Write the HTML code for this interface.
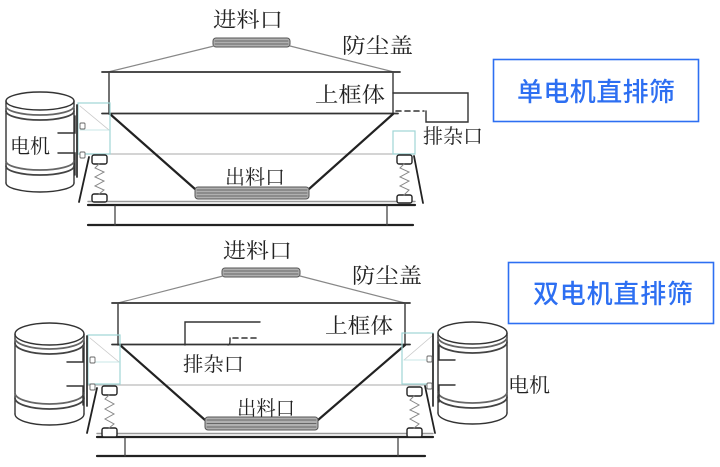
<!DOCTYPE html>
<html><head><meta charset="utf-8"><style>
html,body{margin:0;padding:0;background:#fff;}
svg{display:block;}
.lb{font-family:"Liberation Serif","Noto Serif CJK SC",serif;fill:#222;}
.bl{font-family:"Liberation Sans","Noto Sans CJK SC",sans-serif;fill:#2d6ff2;font-weight:500;}
</style></head><body>
<svg width="720" height="467" viewBox="0 0 720 467" xmlns="http://www.w3.org/2000/svg">
<rect width="720" height="467" fill="#fff"/>

<!-- ================= TOP PANEL ================= -->
<g fill="none" stroke-linecap="round">
  <rect x="213" y="38" width="77" height="9" rx="3" fill="#b0b0b0" stroke="#555" stroke-width="1"/>
  <line x1="215" y1="41" x2="288" y2="41" stroke="#666" stroke-width="1"/>
  <line x1="215" y1="44" x2="288" y2="44" stroke="#666" stroke-width="1"/>
  <line x1="214" y1="46" x2="108" y2="72" stroke="#888" stroke-width="1.2"/>
  <line x1="290" y1="46" x2="394" y2="72" stroke="#888" stroke-width="1.2"/>
  <line x1="102" y1="72" x2="400" y2="72" stroke="#333" stroke-width="1.8"/>
  <line x1="109" y1="72" x2="109" y2="114" stroke="#444" stroke-width="1.5"/>
  <line x1="393" y1="72" x2="393" y2="113" stroke="#444" stroke-width="1.5"/>
  <line x1="102" y1="113.5" x2="398" y2="113.5" stroke="#333" stroke-width="1.8"/>
  <line x1="78" y1="154" x2="415" y2="154" stroke="#bbb" stroke-width="1.2"/>
  <line x1="110" y1="114" x2="195" y2="189" stroke="#222" stroke-width="2.2"/>
  <line x1="393" y1="114" x2="309" y2="189" stroke="#222" stroke-width="2.2"/>
  <rect x="195" y="187" width="114" height="12" rx="3" fill="#b0b0b0" stroke="#555" stroke-width="1"/>
  <line x1="197" y1="190" x2="307" y2="190" stroke="#666"/>
  <line x1="197" y1="193" x2="307" y2="193" stroke="#666"/>
  <line x1="197" y1="196" x2="307" y2="196" stroke="#666"/>
  <line x1="88" y1="201.5" x2="415" y2="201.5" stroke="#999" stroke-width="1.4"/>
  <line x1="88" y1="205" x2="415" y2="205" stroke="#222" stroke-width="2.2"/>
  <line x1="88" y1="225" x2="413" y2="225" stroke="#222" stroke-width="2.2"/>
  <line x1="115" y1="206" x2="115" y2="225" stroke="#444" stroke-width="1.3"/>
  <line x1="387" y1="206" x2="387" y2="225" stroke="#444" stroke-width="1.3"/>

  <!-- left motor -->
  <ellipse cx="40" cy="101" rx="34" ry="9" stroke="#333" stroke-width="1.4" fill="#fff"/>
  <line x1="6" y1="101" x2="6" y2="183" stroke="#333" stroke-width="1.4"/>
  <line x1="74" y1="101" x2="74" y2="183" stroke="#333" stroke-width="1.4"/>
  <path d="M6 183 A34 9 0 0 0 74 183" stroke="#333" stroke-width="1.4"/>
  <path d="M6 106 A34 9 0 0 0 74 106" stroke="#666" stroke-width="1.8"/>
  <path d="M6 111 A34 9 0 0 0 74 111" stroke="#444" stroke-width="1.8"/>
  <path d="M6 161 A34 9 0 0 0 74 161" stroke="#666" stroke-width="1.8"/>
  <path d="M6 166 A34 9 0 0 0 74 166" stroke="#444" stroke-width="1.8"/>
  <path d="M75 116 L75 133 L58 133" stroke="#333" stroke-width="1.4"/>
  <path d="M58 153 L75 153 L75 175" stroke="#333" stroke-width="1.4"/>
  <rect x="78" y="103" width="32" height="51" stroke="#9fd6d6" stroke-width="1.2"/>
  <line x1="80" y1="106" x2="109" y2="130" stroke="#c8c8c8" stroke-width="0.8"/>
  <line x1="80" y1="130" x2="109" y2="130" stroke="#b9e0e0" stroke-width="0.8"/>
  <line x1="77" y1="105" x2="77" y2="177" stroke="#333" stroke-width="1.8"/>
  <rect x="80" y="123" width="5" height="6" rx="1" stroke="#666" stroke-width="0.9" fill="#fff"/>
  <rect x="80" y="152" width="5" height="6" rx="1" stroke="#666" stroke-width="0.9" fill="#fff"/>
  <rect x="92" y="155" width="15" height="9" rx="2" stroke="#222" stroke-width="1.4" fill="#fff"/>
  <rect x="92" y="194" width="15" height="8" rx="2" stroke="#222" stroke-width="1.4" fill="#fff"/>
  <polyline points="99,164 95,168 104,172 95,177 104,181 95,186 104,190 99,194" stroke="#888" stroke-width="1"/>
  <line x1="89" y1="157" x2="79" y2="202" stroke="#222" stroke-width="1.8"/>

  <!-- right side -->
  <rect x="393" y="131" width="22" height="23" stroke="#9fd6d6" stroke-width="1.2"/>
  <rect x="397" y="155" width="15" height="9" rx="2" stroke="#222" stroke-width="1.4" fill="#fff"/>
  <rect x="397" y="195" width="15" height="8" rx="2" stroke="#222" stroke-width="1.4" fill="#fff"/>
  <polyline points="404,164 400,168 409,172 400,177 409,181 400,186 409,190 404,195" stroke="#888" stroke-width="1"/>
  <line x1="414" y1="156" x2="423" y2="203" stroke="#222" stroke-width="1.8"/>
  <path d="M393 93 L468 93 L468 122 L426 122 L426 111" stroke="#333" stroke-width="1.4"/>
  <line x1="396" y1="111" x2="424" y2="111" stroke="#333" stroke-width="1.6" stroke-dasharray="5,4"/>
</g>

<text class="lb" x="213" y="27" font-size="21" textLength="70" lengthAdjust="spacingAndGlyphs">进料口</text>
<text class="lb" x="342" y="53" font-size="21" textLength="71" lengthAdjust="spacingAndGlyphs">防尘盖</text>
<text class="lb" x="315" y="102" font-size="21" textLength="70" lengthAdjust="spacingAndGlyphs">上框体</text>
<text class="lb" x="423" y="143" font-size="20" textLength="60" lengthAdjust="spacingAndGlyphs">排杂口</text>
<text class="lb" x="225" y="184" font-size="20" textLength="60" lengthAdjust="spacingAndGlyphs">出料口</text>
<text class="lb" x="10" y="153" font-size="20" textLength="40" lengthAdjust="spacingAndGlyphs">电机</text>

<rect x="493.5" y="59.5" width="205" height="62" fill="none" stroke="#2d6ff2" stroke-width="1.6"/>
<text class="bl" x="517" y="101" font-size="26" textLength="158" lengthAdjust="spacing">单电机直排筛</text>

<!-- ================= BOTTOM PANEL ================= -->
<g fill="none" stroke-linecap="round">
  <rect x="222" y="268" width="78" height="9" rx="3" fill="#b0b0b0" stroke="#555" stroke-width="1"/>
  <line x1="224" y1="271" x2="298" y2="271" stroke="#666"/>
  <line x1="224" y1="274" x2="298" y2="274" stroke="#666"/>
  <line x1="223" y1="276" x2="118" y2="303" stroke="#888" stroke-width="1.2"/>
  <line x1="300" y1="276" x2="405" y2="303" stroke="#888" stroke-width="1.2"/>
  <line x1="112" y1="303" x2="410" y2="303" stroke="#333" stroke-width="1.8"/>
  <line x1="118" y1="303" x2="118" y2="345" stroke="#444" stroke-width="1.5"/>
  <line x1="405" y1="303" x2="405" y2="345" stroke="#444" stroke-width="1.5"/>
  <line x1="112" y1="344.5" x2="410" y2="344.5" stroke="#333" stroke-width="1.8"/>
  <line x1="88" y1="385" x2="430" y2="385" stroke="#bbb" stroke-width="1.2"/>
  <line x1="120" y1="345" x2="205" y2="420" stroke="#222" stroke-width="2.2"/>
  <line x1="405" y1="345" x2="318" y2="420" stroke="#222" stroke-width="2.2"/>
  <rect x="205" y="417" width="113" height="13" rx="3" fill="#b0b0b0" stroke="#555" stroke-width="1"/>
  <line x1="207" y1="420" x2="316" y2="420" stroke="#666"/>
  <line x1="207" y1="423.5" x2="316" y2="423.5" stroke="#666"/>
  <line x1="207" y1="427" x2="316" y2="427" stroke="#666"/>
  <line x1="97" y1="433.5" x2="433" y2="433.5" stroke="#999" stroke-width="1.4"/>
  <line x1="97" y1="437" x2="433" y2="437" stroke="#222" stroke-width="2.2"/>
  <line x1="97" y1="456" x2="425" y2="456" stroke="#222" stroke-width="2.2"/>
  <line x1="125" y1="438" x2="125" y2="456" stroke="#444" stroke-width="1.3"/>
  <line x1="398" y1="438" x2="398" y2="456" stroke="#444" stroke-width="1.3"/>

  <path d="M260 322 L185 322 L185 345" stroke="#333" stroke-width="1.4"/>
  <path d="M228 345 Q230 345 230 341 L230 338" stroke="#333" stroke-width="1.4"/>
  <line x1="233" y1="338" x2="259" y2="338" stroke="#333" stroke-width="1.6" stroke-dasharray="5,4"/>

  <!-- left motor -->
  <ellipse cx="49.5" cy="334" rx="34.5" ry="11" stroke="#333" stroke-width="1.4" fill="#fff"/>
  <line x1="15" y1="334" x2="15" y2="414" stroke="#333" stroke-width="1.4"/>
  <line x1="84" y1="334" x2="84" y2="414" stroke="#333" stroke-width="1.4"/>
  <path d="M15 414 A34.5 11 0 0 0 84 414" stroke="#333" stroke-width="1.4"/>
  <path d="M15 338 A34.5 11 0 0 0 84 338" stroke="#666" stroke-width="1.8"/>
  <path d="M15 343 A34.5 11 0 0 0 84 343" stroke="#444" stroke-width="1.8"/>
  <path d="M15 393 A34.5 11 0 0 0 84 393" stroke="#666" stroke-width="1.8"/>
  <path d="M15 398 A34.5 11 0 0 0 84 398" stroke="#444" stroke-width="1.8"/>
  <path d="M83 348 L83 362 L67 362" stroke="#333" stroke-width="1.4"/>
  <path d="M67 386 L83 386 L83 405" stroke="#333" stroke-width="1.4"/>
  <rect x="88" y="335" width="32" height="49" stroke="#9fd6d6" stroke-width="1.2"/>
  <line x1="90" y1="338" x2="119" y2="362" stroke="#c8c8c8" stroke-width="0.8"/>
  <line x1="90" y1="362" x2="119" y2="362" stroke="#b9e0e0" stroke-width="0.8"/>
  <line x1="87" y1="336" x2="87" y2="406" stroke="#333" stroke-width="1.8"/>
  <rect x="90" y="357" width="5" height="6" rx="1" stroke="#666" stroke-width="0.9" fill="#fff"/>
  <rect x="90" y="384" width="5" height="6" rx="1" stroke="#666" stroke-width="0.9" fill="#fff"/>
  <rect x="102" y="386" width="15" height="9" rx="2" stroke="#222" stroke-width="1.4" fill="#fff"/>
  <rect x="102" y="428" width="15" height="9" rx="2" stroke="#222" stroke-width="1.4" fill="#fff"/>
  <polyline points="109,395 105,399 114,404 105,409 114,414 105,419 114,424 109,428" stroke="#888" stroke-width="1"/>
  <line x1="97" y1="388" x2="87" y2="433" stroke="#222" stroke-width="1.8"/>

  <!-- right motor -->
  <ellipse cx="472.5" cy="333" rx="34.5" ry="11" stroke="#333" stroke-width="1.4" fill="#fff"/>
  <line x1="438" y1="333" x2="438" y2="413" stroke="#333" stroke-width="1.4"/>
  <line x1="507" y1="333" x2="507" y2="413" stroke="#333" stroke-width="1.4"/>
  <path d="M438 413 A34.5 11 0 0 0 507 413" stroke="#333" stroke-width="1.4"/>
  <path d="M438 337 A34.5 11 0 0 0 507 337" stroke="#666" stroke-width="1.8"/>
  <path d="M438 342 A34.5 11 0 0 0 507 342" stroke="#444" stroke-width="1.8"/>
  <path d="M438 392 A34.5 11 0 0 0 507 392" stroke="#666" stroke-width="1.8"/>
  <path d="M438 397 A34.5 11 0 0 0 507 397" stroke="#444" stroke-width="1.8"/>
  <path d="M439 346 L439 360 L455 360" stroke="#333" stroke-width="1.4"/>
  <path d="M455 385 L439 385 L439 402" stroke="#333" stroke-width="1.4"/>
  <rect x="402" y="333" width="31" height="51" stroke="#9fd6d6" stroke-width="1.2"/>
  <line x1="432" y1="336" x2="404" y2="360" stroke="#c8c8c8" stroke-width="0.8"/>
  <line x1="404" y1="360" x2="432" y2="360" stroke="#b9e0e0" stroke-width="0.8"/>
  <line x1="433" y1="334" x2="433" y2="406" stroke="#333" stroke-width="1.8"/>
  <rect x="427" y="356" width="5" height="6" rx="1" stroke="#666" stroke-width="0.9" fill="#fff"/>
  <rect x="427" y="383" width="5" height="6" rx="1" stroke="#666" stroke-width="0.9" fill="#fff"/>
  <rect x="407" y="387" width="15" height="9" rx="2" stroke="#222" stroke-width="1.4" fill="#fff"/>
  <rect x="407" y="428" width="15" height="9" rx="2" stroke="#222" stroke-width="1.4" fill="#fff"/>
  <polyline points="414,396 410,400 419,405 410,410 419,414 410,419 419,424 414,428" stroke="#888" stroke-width="1"/>
  <line x1="425" y1="386" x2="435" y2="433" stroke="#222" stroke-width="1.8"/>
</g>

<text class="lb" x="223" y="258" font-size="21" textLength="69" lengthAdjust="spacingAndGlyphs">进料口</text>
<text class="lb" x="352" y="283" font-size="21" textLength="70" lengthAdjust="spacingAndGlyphs">防尘盖</text>
<text class="lb" x="325" y="333" font-size="21" textLength="68" lengthAdjust="spacingAndGlyphs">上框体</text>
<text class="lb" x="183" y="371" font-size="20" textLength="61" lengthAdjust="spacingAndGlyphs">排杂口</text>
<text class="lb" x="237" y="415" font-size="20" textLength="58" lengthAdjust="spacingAndGlyphs">出料口</text>
<text class="lb" x="508" y="392" font-size="20" textLength="42" lengthAdjust="spacingAndGlyphs">电机</text>

<rect x="508.5" y="262.5" width="205" height="61" fill="none" stroke="#2d6ff2" stroke-width="1.6"/>
<text class="bl" x="533" y="303" font-size="26" textLength="160" lengthAdjust="spacing">双电机直排筛</text>
</svg>
</body></html>
